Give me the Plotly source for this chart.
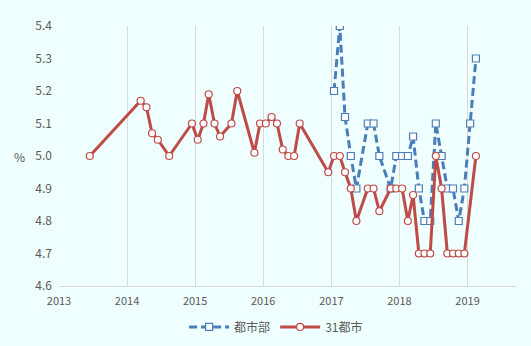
import plotly.graph_objects as go

# 都市部 (urban areas) – monthly observations
urban_dates = ["2017-01-15", "2017-02-15", "2017-03-15", "2017-04-15", "2017-05-15",
               "2017-07-15", "2017-08-15", "2017-09-15", "2017-11-15", "2017-12-15",
               "2018-01-15", "2018-02-15", "2018-03-15", "2018-04-15", "2018-05-15",
               "2018-06-15", "2018-07-15", "2018-08-15", "2018-09-15", "2018-10-15",
               "2018-11-15", "2018-12-15", "2019-01-15", "2019-02-15"]
urban_values = [5.2, 5.4, 5.12, 5.0, 4.9,
                5.1, 5.1, 5.0, 4.9, 5.0,
                5.0, 5.0, 5.06, 4.9, 4.8,
                4.8, 5.1, 5.0, 4.9, 4.9,
                4.8, 4.9, 5.1, 5.3]

# 31都市 (31 major cities)
city31_dates = ["2013-06-15", "2014-03-15", "2014-04-15", "2014-05-15", "2014-06-15",
                "2014-08-15", "2014-12-15", "2015-01-15", "2015-02-15", "2015-03-15",
                "2015-04-15", "2015-05-15", "2015-07-15", "2015-08-15", "2015-11-15",
                "2015-12-15", "2016-01-15", "2016-02-15", "2016-03-15", "2016-04-15",
                "2016-05-15", "2016-06-15", "2016-07-15", "2016-12-15", "2017-01-15",
                "2017-02-15", "2017-03-15", "2017-04-15", "2017-05-15", "2017-07-15",
                "2017-08-15", "2017-09-15", "2017-11-15", "2017-12-15", "2018-01-15",
                "2018-02-15", "2018-03-15", "2018-04-15", "2018-05-15", "2018-06-15",
                "2018-07-15", "2018-08-15", "2018-09-15", "2018-10-15", "2018-11-15",
                "2018-12-15", "2019-02-15"]
city31_values = [5.0, 5.17, 5.15, 5.07, 5.05,
                 5.0, 5.1, 5.05, 5.1, 5.19,
                 5.1, 5.06, 5.1, 5.2, 5.01,
                 5.1, 5.1, 5.12, 5.1, 5.02,
                 5.0, 5.0, 5.1, 4.95, 5.0,
                 5.0, 4.95, 4.9, 4.8, 4.9,
                 4.9, 4.83, 4.9, 4.9, 4.9,
                 4.8, 4.88, 4.7, 4.7, 4.7,
                 5.0, 4.9, 4.7, 4.7, 4.7,
                 4.7, 5.0]

year_ticks = ["2013-01-01", "2014-01-01", "2015-01-01", "2016-01-01",
              "2017-01-01", "2018-01-01", "2019-01-01"]
year_labels = ["2013", "2014", "2015", "2016", "2017", "2018", "2019"]

BLUE = "#4A7EBB"
RED = "#BE4B48"
FONT = "Noto Sans CJK JP"

fig = go.Figure()
fig.add_trace(go.Scatter(
    x=urban_dates, y=urban_values, name="都市部", mode="lines+markers",
    line=dict(color=BLUE, width=3, dash="8px,4px"),
    marker=dict(symbol="square", size=7, color="white",
                line=dict(color=BLUE, width=1.2)),
))
fig.add_trace(go.Scatter(
    x=city31_dates, y=city31_values, name="31都市", mode="lines+markers",
    line=dict(color=RED, width=3),
    marker=dict(symbol="circle", size=7, color="white",
                line=dict(color=RED, width=1.2)),
))

fig.update_layout(
    width=531, height=346,
    margin=dict(l=59, r=15, t=26, b=60),
    paper_bgcolor="#F0FFFF", plot_bgcolor="#F0FFFF",
    font=dict(family=FONT, size=11, color="#595959"),
    showlegend=True,
    legend=dict(orientation="h", xref="container", yref="container",
                x=0.52, xanchor="center", y=0.055, yanchor="middle",
                font=dict(size=12, color="#595959"),
                bgcolor="rgba(0,0,0,0)", itemwidth=40, tracegroupgap=0),
    xaxis=dict(
        type="date", range=["2013-01-01", "2019-09-18"],
        tickvals=year_ticks, ticktext=year_labels,
        showgrid=True, gridcolor="#D9D9D9", gridwidth=1,
        showline=True, linecolor="#D9D9D9", linewidth=1,
        ticks="outside", ticklen=5, tickcolor="rgba(0,0,0,0)",
        zeroline=False, tickfont=dict(size=11), automargin=False,
    ),
    yaxis=dict(
        range=[4.6, 5.4], dtick=0.1, tickformat=".1f",
        showgrid=False, zeroline=False, showline=False,
        ticks="", ticklabelstandoff=6, tickfont=dict(size=12),
        automargin=False,
    ),
    annotations=[dict(text="%", x=-0.103, y=0.5, xref="paper", yref="paper",
                      showarrow=False, font=dict(size=12, color="#595959"))],
)

fig.write_html("out.html")
